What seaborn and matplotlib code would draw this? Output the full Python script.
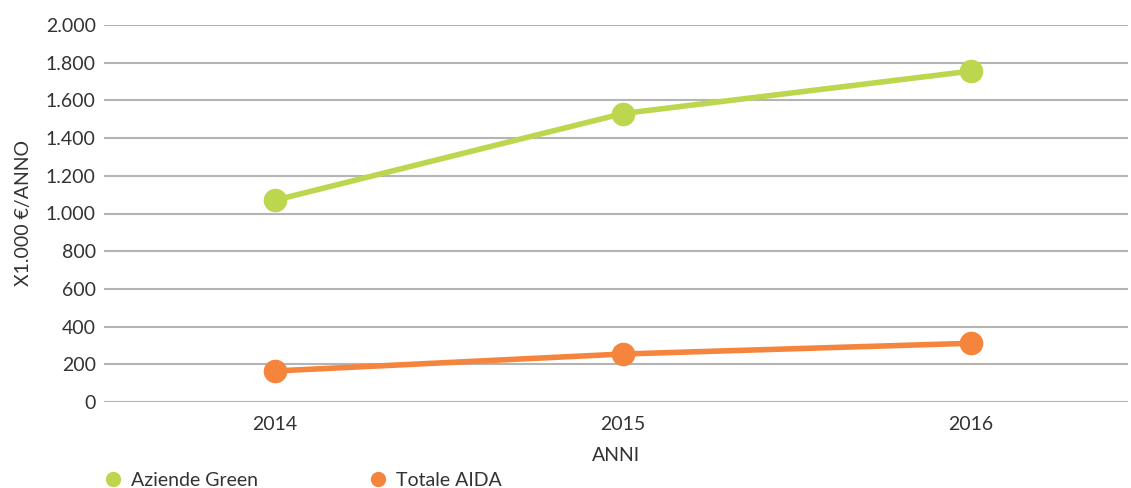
import matplotlib
matplotlib.use("Agg")
import matplotlib.pyplot as plt
import seaborn as sns
import pandas as pd
from matplotlib.lines import Line2D

# =====================================================
# DATA
# =====================================================

anni = ["2014", "2015", "2016"]
aziende_green = [1070, 1530, 1755]
totale_aida = [165, 255, 312]

serie = ["Aziende Green", "Totale AIDA"]
colori = ["#bcd64e", "#f5843c"]
y_ticks = [0, 200, 400, 600, 800, 1000, 1200, 1400, 1600, 1800, 2000]
y_tick_labels = ["0", "200", "400", "600", "800", "1.000", "1.200",
                 "1.400", "1.600", "1.800", "2.000"]

df = pd.DataFrame({
    "anno": anni * 2,
    "valore": aziende_green + totale_aida,
    "serie": [serie[0]] * 3 + [serie[1]] * 3,
})

# =====================================================
# PLOT
# =====================================================

sns.set_theme(style="white")
plt.rcParams["font.family"] = ["Lato", "DejaVu Sans"]

fig = plt.figure(figsize=(11.31, 4.88), dpi=100)
ax = fig.add_axes([0.092, 0.176, 0.905, 0.773])

for y in y_ticks:
    ax.axhline(y, color="#b4b4b4", linewidth=1.5, zorder=0)

sns.lineplot(
    data=df,
    x="anno",
    y="valore",
    hue="serie",
    palette=colori,
    linewidth=4,
    marker="o",
    markersize=17,
    markeredgewidth=0,
    legend=False,
    ax=ax,
)

ax.set_xlim(-0.49, 2.45)
ax.set_ylim(0, 2000)
ax.set_yticks(y_ticks)
ax.set_yticklabels(y_tick_labels)
ax.tick_params(axis="both", length=0, labelsize=14, colors="#333333")
ax.tick_params(axis="y", pad=6)
ax.tick_params(axis="x", pad=10)

for s in ax.spines.values():
    s.set_visible(False)

ax.set_xlabel("ANNI", fontsize=14, color="#333333", labelpad=10)
ax.set_ylabel("X1.000 €/ANNO", fontsize=14, color="#333333", labelpad=10)

handles = [
    Line2D([0], [0], marker="o", color="none", markerfacecolor=c,
           markeredgewidth=0, markersize=11)
    for c in colori
]
fig.legend(
    handles,
    serie,
    loc="lower left",
    bbox_to_anchor=(0.076, -0.037),
    ncol=2,
    frameon=False,
    fontsize=14,
    handlelength=1.0,
    handletextpad=0.4,
    columnspacing=5.7,
    labelcolor="#333333",
)

plt.savefig("out.png", dpi=100)
plt.close()
